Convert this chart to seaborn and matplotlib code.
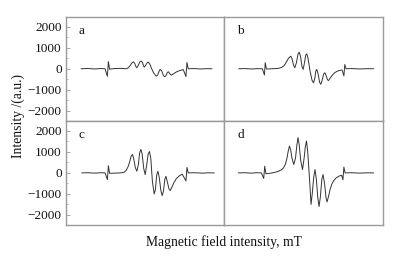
import matplotlib
matplotlib.use("Agg")
import matplotlib.pyplot as plt
import seaborn as sns
import pandas as pd
from matplotlib.ticker import MultipleLocator

# ---- data ----
panel_labels = ["a", "b", "c", "d"]

field_a = [331.50, 332.20, 332.80, 333.40, 333.90, 334.13, 334.23, 334.35, 334.80, 335.50,
           336.00, 336.20, 336.40, 336.58, 336.73, 336.86, 336.98, 337.07, 337.20, 337.36,
           337.50, 337.63, 337.73, 337.80, 337.93, 338.10, 338.23, 338.36, 338.55, 338.75,
           339.00, 339.15, 339.30, 339.40, 339.55, 339.72, 339.85, 339.98, 340.10, 340.20,
           340.33, 340.50, 340.65, 340.85, 341.10, 341.40, 341.70, 341.97, 342.07, 342.20,
           342.80, 343.40, 344.00, 344.57]
intensity_a = [0, 15, -10, 10, 0, -360, 340, -20, 10, 20,
               0, 40, 150, 280, 330, 250, 100, 50, 150, 320,
               370, 300, 150, 80, 150, 290, 320, 220, 0, -200,
               -350, -300, -100, -30, -100, -320, -380, -330, -190, -140,
               -220, -300, -270, -200, -130, -80, -40, -370, 300, 0,
               10, -10, 5, 0]

field_b = [331.43, 332.00, 332.70, 333.30, 333.80, 334.00, 334.08, 334.20, 334.80, 335.40,
           335.70, 335.97, 336.20, 336.40, 336.63, 336.75, 336.90, 337.03, 337.20, 337.35,
           337.47, 337.60, 337.75, 337.87, 338.02, 338.12, 338.23, 338.35, 338.55, 338.75,
           338.90, 339.03, 339.13, 339.23, 339.36, 339.51, 339.63, 339.76, 339.91, 340.03,
           340.16, 340.30, 340.40, 340.55, 340.75, 341.00, 341.25, 341.50, 341.75, 341.93,
           342.02, 342.15, 342.70, 343.50, 344.20, 344.90]
intensity_b = [0, 10, -10, 5, 0, -300, 290, -10, 0, 20,
               60, 150, 330, 500, 600, 480, 180, 50, 300, 700,
               790, 600, 100, -30, 350, 650, 710, 500, -100, -550,
               -670, -450, -100, -30, -250, -650, -740, -550, -250, -190,
               -330, -530, -560, -450, -320, -190, -120, -80, -60, -340,
               200, 0, 10, -10, 5, 0]

field_c = [331.57, 332.20, 332.80, 333.50, 333.90, 334.13, 334.23, 334.35, 334.80, 335.40,
           335.80, 336.00, 336.20, 336.35, 336.50, 336.63, 336.75, 336.92, 337.07, 337.22,
           337.35, 337.47, 337.60, 337.76, 337.90, 338.06, 338.20, 338.33, 338.46, 338.62,
           338.80, 338.92, 339.05, 339.17, 339.30, 339.47, 339.60, 339.73, 339.86, 339.97,
           340.10, 340.27, 340.40, 340.55, 340.75, 341.00, 341.30, 341.60, 341.97, 342.07,
           342.20, 342.80, 343.60, 344.20, 344.80]
intensity_c = [0, 10, -10, 10, 0, -320, 340, -20, -10, 0,
               30, 120, 300, 520, 800, 880, 700, 250, 80, 400,
               950, 1120, 900, 200, -80, 400, 900, 1020, 700, -400,
               -1000, -800, -100, 80, -200, -850, -1080, -850, -300, -160,
               -400, -750, -840, -700, -480, -280, -140, -60, -380, 260,
               0, 10, -10, 5, 0]

field_d = [331.40, 332.00, 332.70, 333.30, 333.70, 333.93, 334.03, 334.15, 334.50, 335.00,
           335.40, 335.70, 335.90, 336.10, 336.25, 336.38, 336.50, 336.62, 336.75, 336.93,
           337.10, 337.23, 337.35, 337.47, 337.62, 337.80, 337.96, 338.08, 338.20, 338.32,
           338.53, 338.65, 338.77, 338.92, 339.05, 339.18, 339.33, 339.45, 339.58, 339.73,
           339.85, 340.00, 340.15, 340.25, 340.38, 340.55, 340.70, 340.90, 341.10, 341.40,
           341.70, 341.83, 341.93, 342.05, 342.70, 343.50, 344.20, 344.90]
intensity_d = [0, 10, -10, 10, 0, -260, 320, -40, -20, 20,
               80, 150, 240, 420, 700, 1050, 1280, 1100, 700, 400,
               700, 1300, 1680, 1350, 600, 160, 700, 1250, 1520, 1000,
               -500, -1500, -1000, -200, 160, -300, -1200, -1600, -1150, -300,
               -80, -500, -1200, -1380, -1150, -800, -560, -380, -260, -160,
               -110, -330, 280, 0, 10, -10, 5, 0]

y_ticks = [-2000, -1000, 0, 1000, 2000]

# ---- style ----
sns.set_style("ticks")
plt.rcParams["font.family"] = ["Liberation Serif", "DejaVu Serif"]
plt.rcParams["axes.edgecolor"] = "#9a9a9a"
plt.rcParams["axes.linewidth"] = 1.0

fig, axes = plt.subplots(2, 2, figsize=(3.99, 2.58), dpi=100, sharex=True, sharey=True)
fig.subplots_adjust(left=0.1654, right=0.9591, top=0.9353, bottom=0.1279,
                    wspace=0, hspace=0)

series = [(field_a, intensity_a), (field_b, intensity_b),
          (field_c, intensity_c), (field_d, intensity_d)]

for ax, lab, (fx, iy) in zip(axes.flat, panel_labels, series):
    df = pd.DataFrame({"field": fx, "intensity": iy})
    sns.lineplot(data=df, x="field", y="intensity", ax=ax, color="#333333",
                 linewidth=0.7, sort=False, estimator=None)
    ax.set_xlim(330.0, 345.8)
    ax.set_ylim(-2480, 2480)
    ax.set_xlabel("")
    ax.set_ylabel("")
    ax.set_xticks([])
    ax.text(0.08, 0.86, lab, transform=ax.transAxes, fontsize=9.5,
            ha="left", va="center", color="#111111")
    for s in ax.spines.values():
        s.set_color("#9a9a9a")

for ax in axes[:, 0]:
    ax.set_yticks(y_ticks)
    ax.yaxis.set_minor_locator(MultipleLocator(500))
    ax.tick_params(axis="y", which="major", direction="in", length=3, width=0.6,
                   color="#9a9a9a", labelsize=9.5, labelcolor="#111111", pad=3)
    ax.tick_params(axis="y", which="minor", direction="in", length=1.5, width=0.5,
                   color="#9a9a9a")
for ax in axes[:, 1]:
    ax.tick_params(axis="y", which="both", left=False, labelleft=False)

fig.text(0.045, 0.55, "Intensity /(a.u.)", rotation=90, ha="center", va="center",
         fontsize=9.8, color="#111111")
fig.text(0.562, 0.062, "Magnetic field intensity, mT", ha="center", va="center",
         fontsize=9.8, color="#111111")

fig.savefig("out.png", dpi=100)
